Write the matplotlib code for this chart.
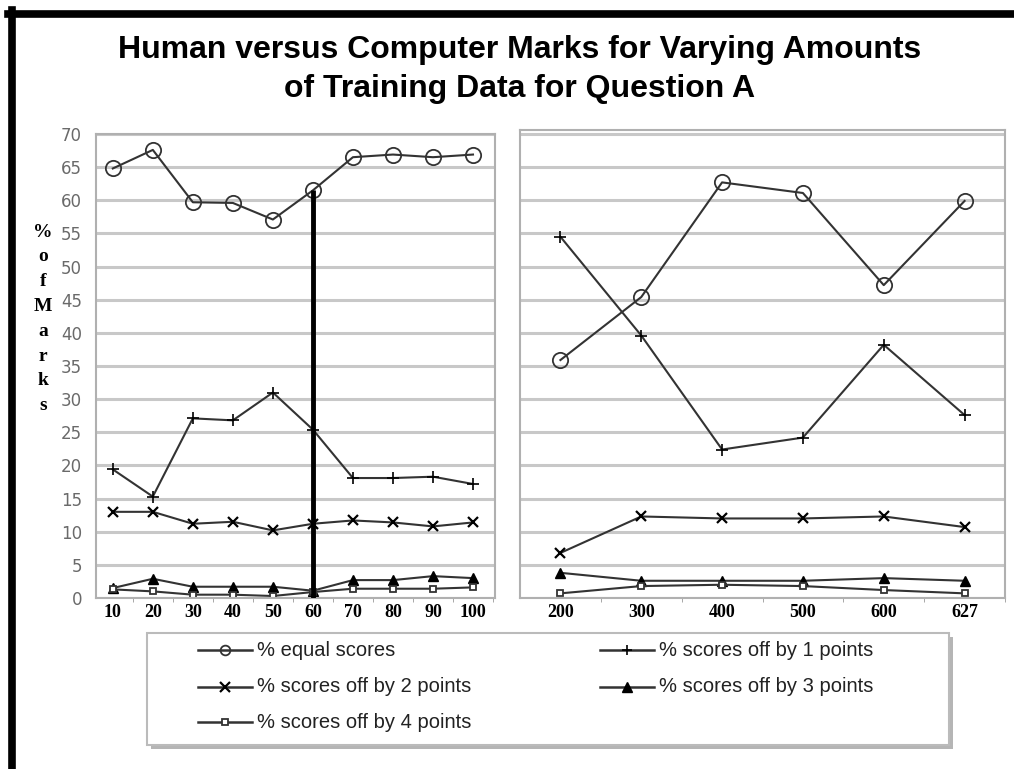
import matplotlib
matplotlib.use('Agg')
import matplotlib.pyplot as plt
from matplotlib.patches import Rectangle
import numpy as np

# data
left_labels = ['10', '20', '30', '40', '50', '60', '70', '80', '90', '100']
left_equal = [64.8, 67.6, 59.7, 59.6, 57.1, 61.5, 66.5, 66.9, 66.5, 66.9]
left_off1 = [19.4, 15.3, 27.1, 26.8, 31.0, 25.4, 18.1, 18.1, 18.3, 17.2]
left_off2 = [13.0, 13.0, 11.2, 11.5, 10.2, 11.2, 11.7, 11.4, 10.8, 11.4]
left_off3 = [1.5, 2.9, 1.7, 1.7, 1.7, 1.1, 2.7, 2.7, 3.3, 3.0]
left_off4 = [1.3, 1.0, 0.5, 0.5, 0.3, 0.9, 1.4, 1.4, 1.4, 1.6]

right_labels = ['200', '300', '400', '500', '600', '627']
right_equal = [35.9, 45.4, 62.7, 61.1, 47.2, 59.9]
right_off1 = [54.5, 39.6, 22.4, 24.2, 38.2, 27.6]
right_off2 = [6.8, 12.3, 12.0, 12.0, 12.3, 10.7]
right_off3 = [3.8, 2.6, 2.6, 2.6, 3.0, 2.6]
right_off4 = [0.7, 1.8, 2.0, 1.8, 1.2, 0.7]

series_names = ['% equal scores', '% scores off by 1 points', '% scores off by 2 points',
                '% scores off by 3 points', '% scores off by 4 points']

W, H = 1014, 769
fig = plt.figure(figsize=(W / 100, H / 100), dpi=100)
fig.patch.set_facecolor('white')


def frac(x0, y0, x1, y1):
    # pixel box -> figure fraction
    return [x0 / W, 1 - y1 / H, (x1 - x0) / W, (y1 - y0) / H]


line_col = '#333333'
grid_col = '#c8c8c8'
styles = [
    dict(marker='o', markersize=11, markerfacecolor='none', markeredgecolor=line_col, markeredgewidth=1.3),
    dict(marker='+', markersize=8, markeredgecolor='black', markeredgewidth=1.2),
    dict(marker='x', markersize=7, markeredgecolor='black', markeredgewidth=1.6),
    dict(marker='^', markersize=7, markerfacecolor='black', markeredgecolor='black'),
    dict(marker='s', markersize=5, markerfacecolor='white', markeredgecolor=line_col, markeredgewidth=1.3),
]


def style_axes(ax, n, labels, ymax):
    ax.set_ylim(0, ymax)
    ax.set_yticks(np.arange(0, 71, 5))
    ax.grid(axis='y', color=grid_col, linewidth=2.2)
    ax.set_axisbelow(True)
    for s in ax.spines.values():
        s.set_color('#b0b0b0')
        s.set_linewidth(1.5)
    ax.set_xticks(range(n))
    ax.set_xticklabels(labels, family='Liberation Serif', fontsize=13, fontweight='bold')
    ax.set_xticks(np.arange(n) + 0.5, minor=True)
    ax.tick_params(axis='x', which='major', length=0, pad=4)
    ax.tick_params(axis='x', which='minor', length=3, color='#999999')
    ax.tick_params(axis='y', length=0, labelcolor='#6a6a6a', labelsize=12, pad=10)


# left panel
ax1 = fig.add_axes(frac(96, 134, 495, 598))
xl = np.arange(len(left_labels))
for vals, st, name in zip([left_equal, left_off1, left_off2, left_off3, left_off4], styles, series_names):
    ax1.plot(xl, vals, color=line_col, linewidth=1.5, label=name, **st)
style_axes(ax1, len(left_labels), left_labels, 70)
ax1.set_xlim(-0.42, 9.55)
ax1.vlines(5, 0, left_equal[5], color='black', linewidth=3.5, zorder=5)

# right panel
ax2 = fig.add_axes(frac(520, 130, 1005, 598))
xr = np.arange(len(right_labels))
for vals, st in zip([right_equal, right_off1, right_off2, right_off3, right_off4], styles):
    ax2.plot(xr, vals, color=line_col, linewidth=1.5, **st)
style_axes(ax2, len(right_labels), right_labels, (598 - 130) / (464 / 70))
ax2.set_xlim(-0.5, 5.5)
ax2.set_yticklabels([])

# title
fig.text(520 / W, 1 - 50 / H, 'Human versus Computer Marks for Varying Amounts',
         ha='center', va='center', fontsize=23, fontweight='bold', family='Liberation Sans')
fig.text(520 / W, 1 - 89 / H, 'of Training Data for Question A',
         ha='center', va='center', fontsize=23, fontweight='bold', family='Liberation Sans')

# stacked y label
fig.text(43 / W, 1 - 319 / H, '%\no\nf\nM\na\nr\nk\ns', ha='center', va='center',
         fontsize=14, family='Liberation Serif', fontweight='bold', linespacing=1.6)

# legend drawn by hand in pixel coords, filled row by row like the original
lax = fig.add_axes([0, 0, 1, 1], zorder=10)
lax.set_xlim(0, W)
lax.set_ylim(H, 0)
lax.axis('off')
lax.add_patch(Rectangle((151, 637), 802, 112, facecolor='#b5b5b5', edgecolor='none'))
lax.add_patch(Rectangle((147, 633), 802, 112, facecolor='white', edgecolor='#bbbbbb', linewidth=1.5))
slots = [(198, 650), (600, 650), (198, 687), (600, 687), (198, 722)]
for (x0, y0), st, name in zip(slots, styles, series_names):
    st = dict(st)
    st['markersize'] = min(st['markersize'], 7)
    lax.plot([x0, x0 + 54], [y0, y0], color=line_col, linewidth=1.8)
    lax.plot([x0 + 27], [y0], **st)
    lax.text(x0 + 59, y0, name, ha='left', va='center', fontsize=14.5,
             family='Liberation Sans', color='#222222')

# black outer frame on top and left
fig.add_artist(plt.Line2D([11.5 / W, 11.5 / W], [0, 1 - 10 / H], color='black', linewidth=5.5))
fig.add_artist(plt.Line2D([8 / W, 1], [1 - 13.5 / H, 1 - 13.5 / H], color='black', linewidth=5.5))

fig.savefig('out.png', dpi=100)
